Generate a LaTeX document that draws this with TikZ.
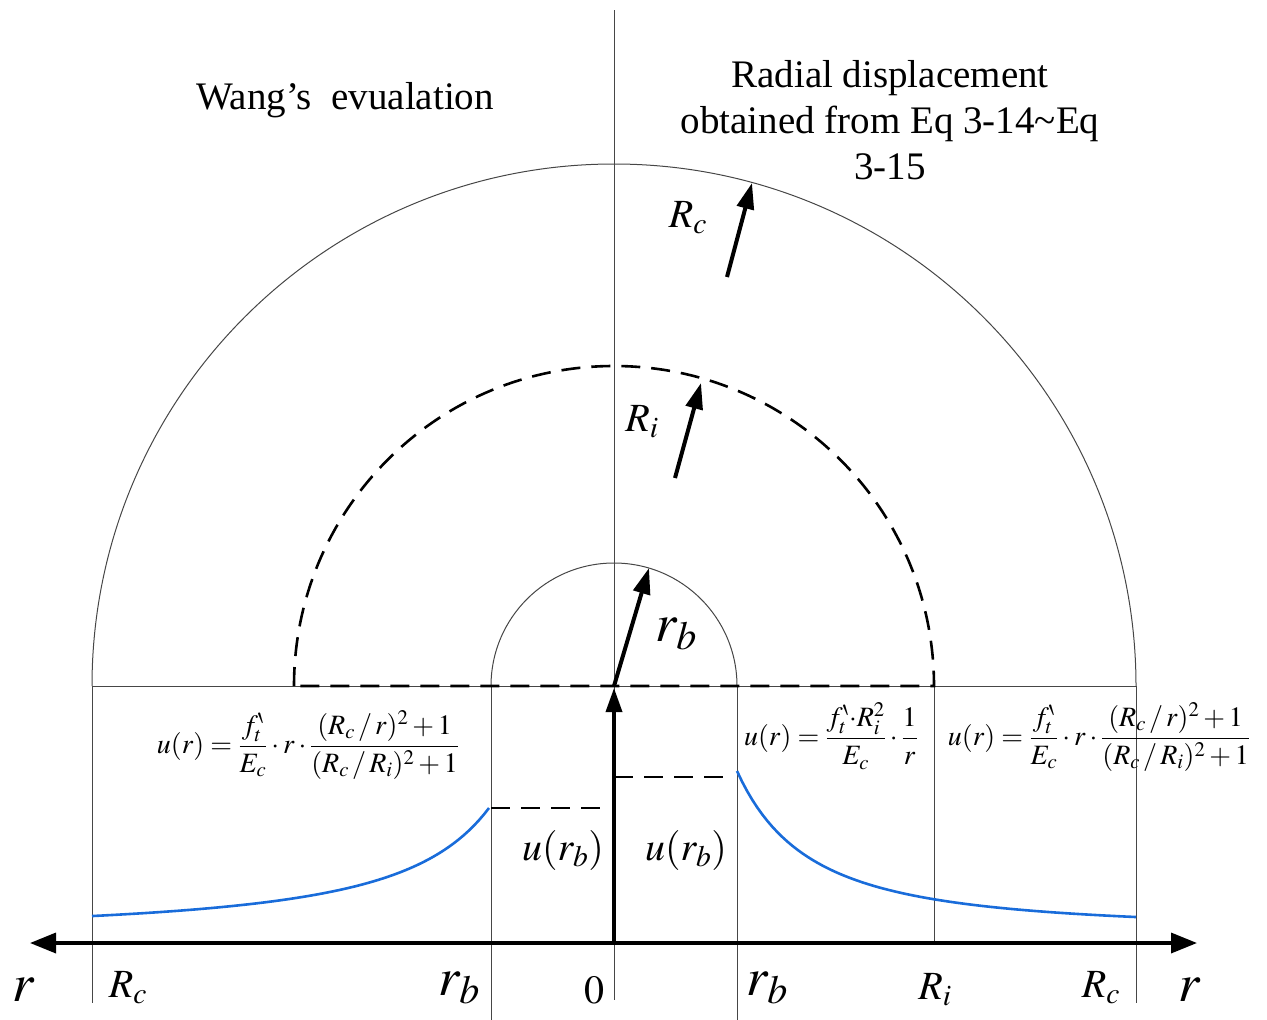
\documentclass[tikz,border=0pt]{standalone}
\usepackage{amsmath}
\usepackage{amssymb}
\usepackage{mathptmx}
\usepackage[no-math]{fontspec}
\setmainfont{Liberation Serif}
\usepackage{xcolor}
\usetikzlibrary{arrows.meta}
\definecolor{curveblue}{RGB}{25,108,218}
\definecolor{guidegray}{RGB}{70,70,70}

\tikzset{
  guide/.style={guidegray, line width=1pt},
  dashbold/.style={black, line width=2.6pt, dash pattern=on 19pt off 11pt},
  radarrow/.style={line width=4pt, -{Triangle[length=26pt,width=17pt]}},
  curve/.style={curveblue, line width=2.6pt},
  title/.style={font=\fontsize{39}{46}\selectfont, align=center},
  sym/.style={font=\fontsize{40}{44}\selectfont},
  bigr/.style={font=\fontsize{54}{58}\selectfont},
  formula/.style={font=\fontsize{28}{32}\selectfont, inner sep=0pt}
}

\begin{document}
\begin{tikzpicture}[x=1pt,y=1pt]
\useasboundingbox (0,0) rectangle (1267,-1020);
\coordinate (O) at (614,-686);

% thin guide lines
\draw[guide] (614,-10) -- (614,-1000);
\draw[guide] (92,-686) -- (1136,-686);
\draw[guide] (92,-686) -- (92,-1003);
\draw[guide] (491,-686) -- (491,-1020);
\draw[guide] (737,-686) -- (737,-1020);
\draw[guide] (934,-686) -- (934,-943);
\draw[guide] (1136,-686) -- (1136,-1003);

% half circles
\draw[guide] (92,-686) arc[start angle=180,end angle=0,radius=522];
\draw[guide] (491,-686) arc[start angle=180,end angle=0,radius=123];
\draw[dashbold] (294,-686) arc[start angle=180,end angle=0,radius=320] -- (294,-686);

% radii
\draw[radarrow] (O) -- (649,-568);
\draw[radarrow] (675,-478) -- (701,-383);
\draw[radarrow] (727,-277) -- (752,-183);

% axes
\draw[line width=3.5pt, {Triangle[length=26pt,width=20pt]}-{Triangle[length=26pt,width=20pt]}] (30,-943) -- (1197,-943);
\draw[line width=3.5pt, -{Triangle[length=24pt,width=16pt]}] (614,-943) -- (614,-688);

% u(r_b) levels
\draw[dashbold] (491,-808) -- (605,-808);
\draw[dashbold] (614,-777) -- (728,-777);

% displacement curves
\draw[curve] plot[domain=125:522, samples=80] ({614-\x}, {-943+128*pow(125/\x,1.3)+7});
\draw[curve] plot[domain=123:522, samples=80] ({614+\x}, {-943+159.7*pow(123/\x,1.7)+12.3});

% texts
\node[title] (wang) at (345,-100) {Wang’s\ \ evualation};
\node[title] (radial) at (890,-120) {Radial displacement\\obtained from Eq 3-14\textasciitilde Eq\\3-15};

\node[sym] (lRc) at (688,-218) {$R_c$};
\node[sym] (lRi) at (642,-422) {$R_i$};
\node[bigr] (lrb) at (676,-634) {$r_b$};
\node[sym] (urbl) at (563,-850) {$u(r_b)$};
\node[sym] (urbr) at (686,-850) {$u(r_b)$};

\node[formula] (fleft) at (308,-745) {$u(r)=\dfrac{f_t^{\backprime}}{E_c}\cdot r\cdot\dfrac{(R_c\,/\,r)^2+1}{(R_c\,/\,R_i)^2+1}$};
\node[formula] (fmid) at (831,-736) {$u(r)=\dfrac{f_t^{\backprime}{\cdot}R_i^2}{E_c}\cdot\dfrac{1}{r}$};
\node[formula] (fright) at (1099,-737) {$u(r)=\dfrac{f_t^{\backprime}}{E_c}\cdot r\cdot\dfrac{(R_c\,/\,r)^2+1}{(R_c\,/\,R_i)^2+1}$};

% axis labels
\node[bigr] (rl) at (24,-990) {$r$};
\node[sym] (aRc1) at (128,-988) {$R_c$};
\node[bigr] (arb1) at (459,-988) {$r_b$};
\node[sym] (a0) at (594,-990) {$0$};
\node[bigr] (arb2) at (767,-988) {$r_b$};
\node[sym] (aRi) at (935,-990) {$R_i$};
\node[sym] (aRc2) at (1101,-988) {$R_c$};
\node[bigr] (rr) at (1190,-990) {$r$};
\end{tikzpicture}
\end{document}
